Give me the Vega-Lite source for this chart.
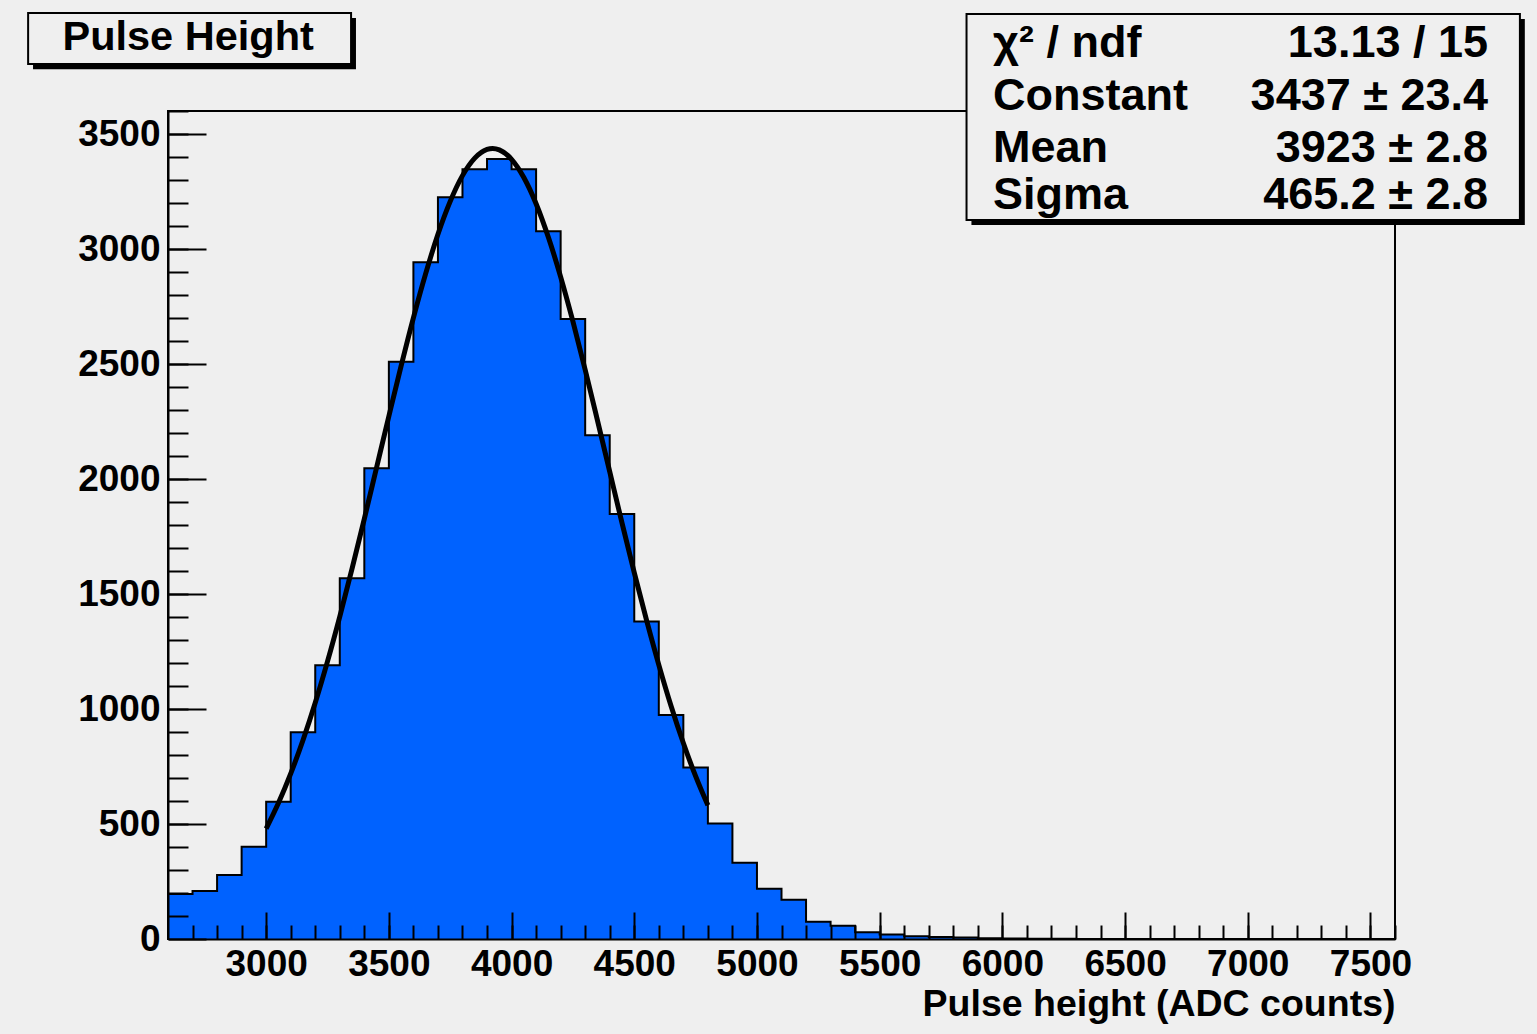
{
  "$schema": "https://vega.github.io/schema/vega-lite/v6.json",
  "width": 1227,
  "height": 828,
  "autosize": {"type": "none"},
  "padding": {"left": 168, "top": 111, "right": 142, "bottom": 95},
  "background": "#efefef",
  "config": {
    "view": {"stroke": "#000000", "strokeWidth": 2, "fill": "#efefef"},
    "font": "Liberation Sans"
  },
  "datasets": {
    "hist": [
      {"lo": 2600, "count": 196}, {"lo": 2700, "count": 209}, {"lo": 2800, "count": 278}, {"lo": 2900, "count": 401},
      {"lo": 3000, "count": 597}, {"lo": 3100, "count": 899}, {"lo": 3200, "count": 1190}, {"lo": 3300, "count": 1568},
      {"lo": 3400, "count": 2047}, {"lo": 3500, "count": 2510}, {"lo": 3600, "count": 2942}, {"lo": 3700, "count": 3225},
      {"lo": 3800, "count": 3347}, {"lo": 3900, "count": 3391}, {"lo": 4000, "count": 3347}, {"lo": 4100, "count": 3077},
      {"lo": 4200, "count": 2696}, {"lo": 4300, "count": 2190}, {"lo": 4400, "count": 1848}, {"lo": 4500, "count": 1380},
      {"lo": 4600, "count": 974}, {"lo": 4700, "count": 746}, {"lo": 4800, "count": 502}, {"lo": 4900, "count": 332},
      {"lo": 5000, "count": 219}, {"lo": 5100, "count": 171}, {"lo": 5200, "count": 75}, {"lo": 5300, "count": 58},
      {"lo": 5400, "count": 29}, {"lo": 5500, "count": 20}, {"lo": 5600, "count": 12}, {"lo": 5700, "count": 9},
      {"lo": 5800, "count": 7}, {"lo": 5900, "count": 3}, {"lo": 6000, "count": 2}, {"lo": 6100, "count": 1},
      {"lo": 6200, "count": 1}, {"lo": 6300, "count": 0}, {"lo": 6400, "count": 0}, {"lo": 6500, "count": 0},
      {"lo": 6600, "count": 0}, {"lo": 6700, "count": 0}, {"lo": 6800, "count": 0}, {"lo": 6900, "count": 0},
      {"lo": 7000, "count": 0}, {"lo": 7100, "count": 0}, {"lo": 7200, "count": 0}, {"lo": 7300, "count": 0},
      {"lo": 7400, "count": 0}, {"lo": 7500, "count": 0}
    ],
    "fit": [
      {"x": 3000, "y": 480}, {"x": 3050, "y": 591}, {"x": 3100, "y": 719}, {"x": 3150, "y": 864},
      {"x": 3200, "y": 1027}, {"x": 3250, "y": 1207}, {"x": 3300, "y": 1402}, {"x": 3350, "y": 1610},
      {"x": 3400, "y": 1827}, {"x": 3450, "y": 2050}, {"x": 3500, "y": 2273}, {"x": 3550, "y": 2492},
      {"x": 3600, "y": 2701}, {"x": 3650, "y": 2893}, {"x": 3700, "y": 3064}, {"x": 3750, "y": 3207},
      {"x": 3800, "y": 3319}, {"x": 3850, "y": 3395}, {"x": 3900, "y": 3433}, {"x": 3923, "y": 3437},
      {"x": 3950, "y": 3431}, {"x": 4000, "y": 3390}, {"x": 4050, "y": 3311}, {"x": 4100, "y": 3197},
      {"x": 4150, "y": 3051}, {"x": 4200, "y": 2879}, {"x": 4250, "y": 2685}, {"x": 4300, "y": 2475},
      {"x": 4350, "y": 2255}, {"x": 4400, "y": 2032}, {"x": 4450, "y": 1809}, {"x": 4500, "y": 1593},
      {"x": 4550, "y": 1386}, {"x": 4600, "y": 1192}, {"x": 4650, "y": 1013}, {"x": 4700, "y": 852},
      {"x": 4750, "y": 708}, {"x": 4800, "y": 581}
    ],
    "stats": [
      {"name": "χ² / ndf", "value": "13.13 / 15"},
      {"name": "Constant", "value": "3437 ± 23.4"},
      {"name": "Mean", "value": "3923 ± 2.8"},
      {"name": "Sigma", "value": "465.2 ± 2.8"}
    ],
    "title": [{"text": "Pulse Height"}]
  },
  "layer": [
    {
      "data": {"name": "hist"},
      "mark": {"type": "area", "interpolate": "step-after", "color": "#0062ff"},
      "encoding": {
        "x": {"field": "lo", "type": "quantitative", "scale": {"domain": [2600, 7600], "nice": false, "zero": false},
          "axis": {"orient": "bottom", "values": [3000, 3500, 4000, 4500, 5000, 5500, 6000, 6500, 7000, 7500],
            "format": "d", "grid": false, "zindex": 1,
            "domainColor": "#000000", "domainWidth": 2,
            "tickSize": -27, "tickWidth": 2, "tickColor": "#000000",
            "labelFont": "Liberation Sans", "labelFontSize": 37, "labelFontWeight": "bold", "labelColor": "#000000",
            "labelPadding": 34, "labelFlush": false, "labelOverlap": false,
            "title": "Pulse height (ADC counts)", "titleFont": "Liberation Sans", "titleFontSize": 37.5,
            "titleFontWeight": "bold", "titleColor": "#000000", "titleAnchor": "end", "titleAlign": "right",
            "titleBaseline": "alphabetic", "titleX": 1227, "titleY": 76}},
        "y": {"field": "count", "type": "quantitative", "scale": {"domain": [0, 3600], "nice": false},
          "axis": {"orient": "left", "values": [0, 500, 1000, 1500, 2000, 2500, 3000, 3500],
            "format": "d", "grid": false, "zindex": 1,
            "domainColor": "#000000", "domainWidth": 2,
            "tickSize": -38, "tickWidth": 2, "tickColor": "#000000",
            "labelFont": "Liberation Sans", "labelFontSize": 37, "labelFontWeight": "bold", "labelColor": "#000000",
            "labelPadding": 46, "labelOverlap": false, "title": null}}
      }
    },
    {
      "data": {"name": "hist"},
      "mark": {"type": "line", "interpolate": "step-after", "color": "#000000", "strokeWidth": 2},
      "encoding": {
        "x": {"field": "lo", "type": "quantitative", "scale": {"domain": [2600, 7600], "nice": false, "zero": false},
          "axis": {"orient": "bottom", "values": [2700, 2800, 2900, 3000, 3100, 3200, 3300, 3400, 3500, 3600, 3700, 3800, 3900, 4000, 4100, 4200, 4300, 4400, 4500, 4600, 4700, 4800, 4900, 5000, 5100, 5200, 5300, 5400, 5500, 5600, 5700, 5800, 5900, 6000, 6100, 6200, 6300, 6400, 6500, 6600, 6700, 6800, 6900, 7000, 7100, 7200, 7300, 7400, 7500, 7600],
            "labels": false, "domain": false, "grid": false, "title": null, "zindex": 1,
            "tickSize": -14, "tickWidth": 2, "tickColor": "#000000"}},
        "y": {"field": "count", "type": "quantitative", "scale": {"domain": [0, 3600], "nice": false},
          "axis": {"orient": "left", "values": [100, 200, 300, 400, 500, 600, 700, 800, 900, 1000, 1100, 1200, 1300, 1400, 1500, 1600, 1700, 1800, 1900, 2000, 2100, 2200, 2300, 2400, 2500, 2600, 2700, 2800, 2900, 3000, 3100, 3200, 3300, 3400, 3500, 3600],
            "labels": false, "domain": false, "grid": false, "title": null, "zindex": 1,
            "tickSize": -20, "tickWidth": 2, "tickColor": "#000000"}}
      }
    },
    {
      "data": {"name": "fit"},
      "mark": {"type": "line", "interpolate": "monotone", "color": "#000000", "strokeWidth": 5},
      "encoding": {
        "x": {"field": "x", "type": "quantitative", "scale": {"domain": [2600, 7600], "nice": false, "zero": false}, "axis": null},
        "y": {"field": "y", "type": "quantitative", "scale": {"domain": [0, 3600], "nice": false}, "axis": null}
      }
    },
    {
      "data": {"name": "title"},
      "mark": {"type": "rect", "color": "#000000"},
      "encoding": {
        "x": {"datum": 2050, "type": "quantitative", "scale": {"domain": [2600, 7600], "nice": false, "zero": false}, "axis": null},
        "x2": {"datum": 3366},
        "y": {"datum": 4004, "type": "quantitative", "scale": {"domain": [0, 3600], "nice": false}, "axis": null},
        "y2": {"datum": 3782}
      }
    },
    {
      "data": {"name": "title"},
      "mark": {"type": "rect", "fill": "#efefef", "stroke": "#000000", "strokeWidth": 2},
      "encoding": {
        "x": {"datum": 2030, "type": "quantitative", "scale": {"domain": [2600, 7600], "nice": false, "zero": false}, "axis": null},
        "x2": {"datum": 3346},
        "y": {"datum": 4026, "type": "quantitative", "scale": {"domain": [0, 3600], "nice": false}, "axis": null},
        "y2": {"datum": 3804}
      }
    },
    {
      "data": {"name": "title"},
      "mark": {"type": "text", "align": "center", "baseline": "alphabetic", "font": "Liberation Sans", "fontSize": 41.5, "fontWeight": "bold", "color": "#000000"},
      "encoding": {
        "x": {"datum": 2682, "type": "quantitative", "scale": {"domain": [2600, 7600], "nice": false, "zero": false}, "axis": null},
        "y": {"datum": 3865, "type": "quantitative", "scale": {"domain": [0, 3600], "nice": false}, "axis": null},
        "text": {"field": "text"}
      }
    },
    {
      "data": {"name": "title"},
      "mark": {"type": "rect", "color": "#000000"},
      "encoding": {
        "x": {"datum": 5874, "type": "quantitative", "scale": {"domain": [2600, 7600], "nice": false, "zero": false}, "axis": null},
        "x2": {"datum": 8129},
        "y": {"datum": 4000, "type": "quantitative", "scale": {"domain": [0, 3600], "nice": false}, "axis": null},
        "y2": {"datum": 3104}
      }
    },
    {
      "data": {"name": "title"},
      "mark": {"type": "rect", "fill": "#efefef", "stroke": "#000000", "strokeWidth": 2},
      "encoding": {
        "x": {"datum": 5854, "type": "quantitative", "scale": {"domain": [2600, 7600], "nice": false, "zero": false}, "axis": null},
        "x2": {"datum": 8109},
        "y": {"datum": 4022, "type": "quantitative", "scale": {"domain": [0, 3600], "nice": false}, "axis": null},
        "y2": {"datum": 3126}
      }
    },
    {
      "data": {"name": "stats"},
      "transform": [{"filter": {"field": "name", "equal": "χ² / ndf"}}],
      "encoding": {"y": {"datum": 3835, "type": "quantitative", "scale": {"domain": [0, 3600], "nice": false}, "axis": null}},
      "layer": [
        {"mark": {"type": "text", "align": "left", "baseline": "alphabetic", "font": "Liberation Sans", "fontSize": 45, "fontWeight": "bold", "color": "#000000"},
          "encoding": {"x": {"datum": 5962, "type": "quantitative", "scale": {"domain": [2600, 7600], "nice": false, "zero": false}, "axis": null}, "text": {"field": "name"}}},
        {"mark": {"type": "text", "align": "right", "baseline": "alphabetic", "font": "Liberation Sans", "fontSize": 45, "fontWeight": "bold", "color": "#000000"},
          "encoding": {"x": {"datum": 7979, "type": "quantitative", "scale": {"domain": [2600, 7600], "nice": false, "zero": false}, "axis": null}, "text": {"field": "value"}}}
      ]
    },
    {
      "data": {"name": "stats"},
      "transform": [{"filter": {"field": "name", "equal": "Constant"}}],
      "encoding": {"y": {"datum": 3604, "type": "quantitative", "scale": {"domain": [0, 3600], "nice": false}, "axis": null}},
      "layer": [
        {"mark": {"type": "text", "align": "left", "baseline": "alphabetic", "font": "Liberation Sans", "fontSize": 45, "fontWeight": "bold", "color": "#000000"},
          "encoding": {"x": {"datum": 5962, "type": "quantitative", "scale": {"domain": [2600, 7600], "nice": false, "zero": false}, "axis": null}, "text": {"field": "name"}}},
        {"mark": {"type": "text", "align": "right", "baseline": "alphabetic", "font": "Liberation Sans", "fontSize": 45, "fontWeight": "bold", "color": "#000000"},
          "encoding": {"x": {"datum": 7979, "type": "quantitative", "scale": {"domain": [2600, 7600], "nice": false, "zero": false}, "axis": null}, "text": {"field": "value"}}}
      ]
    },
    {
      "data": {"name": "stats"},
      "transform": [{"filter": {"field": "name", "equal": "Mean"}}],
      "encoding": {"y": {"datum": 3378, "type": "quantitative", "scale": {"domain": [0, 3600], "nice": false}, "axis": null}},
      "layer": [
        {"mark": {"type": "text", "align": "left", "baseline": "alphabetic", "font": "Liberation Sans", "fontSize": 45, "fontWeight": "bold", "color": "#000000"},
          "encoding": {"x": {"datum": 5962, "type": "quantitative", "scale": {"domain": [2600, 7600], "nice": false, "zero": false}, "axis": null}, "text": {"field": "name"}}},
        {"mark": {"type": "text", "align": "right", "baseline": "alphabetic", "font": "Liberation Sans", "fontSize": 45, "fontWeight": "bold", "color": "#000000"},
          "encoding": {"x": {"datum": 7979, "type": "quantitative", "scale": {"domain": [2600, 7600], "nice": false, "zero": false}, "axis": null}, "text": {"field": "value"}}}
      ]
    },
    {
      "data": {"name": "stats"},
      "transform": [{"filter": {"field": "name", "equal": "Sigma"}}],
      "encoding": {"y": {"datum": 3174, "type": "quantitative", "scale": {"domain": [0, 3600], "nice": false}, "axis": null}},
      "layer": [
        {"mark": {"type": "text", "align": "left", "baseline": "alphabetic", "font": "Liberation Sans", "fontSize": 45, "fontWeight": "bold", "color": "#000000"},
          "encoding": {"x": {"datum": 5962, "type": "quantitative", "scale": {"domain": [2600, 7600], "nice": false, "zero": false}, "axis": null}, "text": {"field": "name"}}},
        {"mark": {"type": "text", "align": "right", "baseline": "alphabetic", "font": "Liberation Sans", "fontSize": 45, "fontWeight": "bold", "color": "#000000"},
          "encoding": {"x": {"datum": 7979, "type": "quantitative", "scale": {"domain": [2600, 7600], "nice": false, "zero": false}, "axis": null}, "text": {"field": "value"}}}
      ]
    }
  ],
  "resolve": {"axis": {"x": "independent", "y": "independent"}}
}
